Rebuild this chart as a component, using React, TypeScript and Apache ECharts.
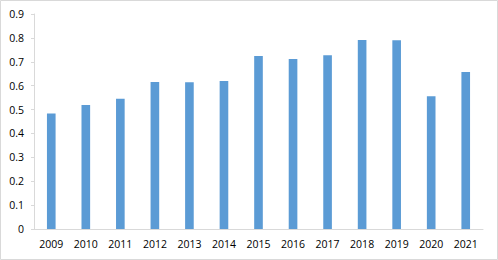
import React, { useEffect, useRef } from "react";
import * as echarts from "echarts";

const years = ["2009", "2010", "2011", "2012", "2013", "2014", "2015", "2016", "2017", "2018", "2019", "2020", "2021"];
const values = [0.484, 0.519, 0.545, 0.615, 0.614, 0.62, 0.724, 0.712, 0.727, 0.791, 0.79, 0.556, 0.657];

export default function App() {
  const ref = useRef<HTMLDivElement>(null);
  useEffect(() => {
    document.body.style.margin = "0";
    const chart = echarts.init(ref.current!, null, { renderer: "svg" });
    const font = "Open Sans, Noto Sans, sans-serif";
    chart.setOption({
      animation: false,
      backgroundColor: "#ffffff",
      graphic: [
        {
          type: "rect",
          shape: { x: 0.5, y: 0.5, width: 497, height: 259 },
          style: { fill: "none", stroke: "#d9d9d9", lineWidth: 1 },
          silent: true,
        },
      ],
      grid: { left: 34, right: 15, top: 14, bottom: 31 },
      xAxis: {
        type: "category",
        data: years,
        axisLine: { show: true, lineStyle: { color: "#d9d9d9", width: 1 } },
        axisTick: { show: false },
        axisLabel: { color: "#000", fontSize: 10.5, fontFamily: font, margin: 9 },
      },
      yAxis: {
        type: "value",
        min: 0,
        max: 0.9,
        interval: 0.1,
        axisLine: { show: true, lineStyle: { color: "#d9d9d9", width: 1 } },
        axisTick: { show: true, length: 3, lineStyle: { color: "#d9d9d9" } },
        splitLine: { show: false },
        axisLabel: {
          color: "#000",
          fontSize: 10.5,
          fontFamily: font,
          margin: 10,
          formatter: (v: number) => String(Math.round(v * 10) / 10),
        },
      },
      series: [
        {
          type: "bar",
          data: values,
          barWidth: "25%",
          itemStyle: { color: "#5b9bd5" },
        },
      ],
    });
    return () => chart.dispose();
  }, []);
  return <div ref={ref} style={{ position: "absolute", left: 0, top: 0, width: 498, height: 260 }} />;
}
